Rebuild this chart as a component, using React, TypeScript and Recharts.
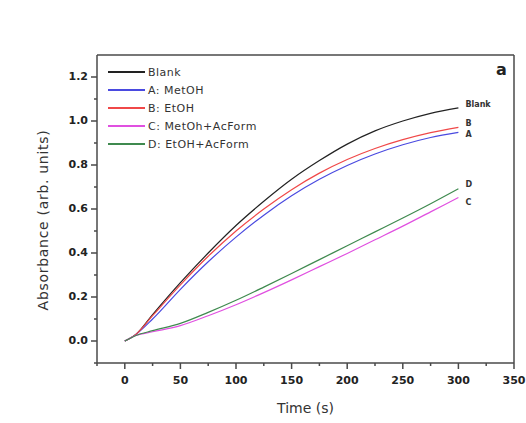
import { LineChart, Line, XAxis, YAxis, LabelList } from 'recharts';

const times = [0, 10, 25, 50, 75, 100, 125, 150, 175, 200, 225, 250, 275, 300];
const blank = [0, 0.03, 0.12, 0.265, 0.4, 0.525, 0.635, 0.735, 0.82, 0.895, 0.955, 1.0, 1.035, 1.06];
const etoh = [0, 0.03, 0.115, 0.255, 0.385, 0.5, 0.6, 0.688, 0.763, 0.825, 0.875, 0.915, 0.947, 0.971];
const metoh = [0, 0.03, 0.1, 0.235, 0.36, 0.472, 0.572, 0.66, 0.735, 0.798, 0.85, 0.892, 0.925, 0.948];
const metohAc = [0, 0.025, 0.042, 0.07, 0.115, 0.165, 0.22, 0.278, 0.338, 0.398, 0.46, 0.522, 0.587, 0.652];
const etohAc = [0, 0.025, 0.047, 0.08, 0.13, 0.185, 0.245, 0.307, 0.37, 0.433, 0.496, 0.559, 0.624, 0.692];

// majors get a label, the rest are minor ticks
const xTicks = [-25, 0, 25, 50, 75, 100, 125, 150, 175, 200, 225, 250, 275, 300, 325, 350];
const yTicks = [-0.1, 0, 0.1, 0.2, 0.3, 0.4, 0.5, 0.6, 0.7, 0.8, 0.9, 1.0, 1.1, 1.2];

const series = [
  { key: 'blank', name: 'Blank', end: 'Blank', color: '#222222', values: blank, dy: -3 },
  { key: 'metoh', name: 'A: MetOH', end: 'A', color: '#4a4ae0', values: metoh, dy: 2 },
  { key: 'etoh', name: 'B: EtOH', end: 'B', color: '#f04848', values: etoh, dy: -4 },
  { key: 'metohAc', name: 'C: MetOh+AcForm', end: 'C', color: '#e050e0', values: metohAc, dy: 5 },
  { key: 'etohAc', name: 'D: EtOH+AcForm', end: 'D', color: '#3f8a4f', values: etohAc, dy: -4 },
];

const data = times.map((t, i) => {
  const row: Record<string, number> = { t };
  series.forEach((s) => (row[s.key] = s.values[i]));
  return row;
});

const font = '"DejaVu Sans", Arial, sans-serif';
const axisColor = '#4a4a4a';

// tick props: y = axis + tickSize(4) + tickMargin(2); tick marks drawn here
function XTick(props: any) {
  const { x, y, payload } = props;
  const v = payload.value;
  const major = v >= 0 && v % 50 === 0;
  const ay = y - 6;
  return (
    <g>
      <rect x={x - 0.75} y={ay} width={1.5} height={major ? 6 : 3} fill={axisColor} />
      {major && (
        <text x={x} y={ay + 18} textAnchor="middle" dominantBaseline="middle" fontSize={11} fontWeight={700} fontFamily={font} fill="#222">
          {v}
        </text>
      )}
    </g>
  );
}

function YTick(props: any) {
  const { x, y, payload } = props;
  const v = payload.value;
  const major = v >= 0 && Math.round(v * 10) % 2 === 0;
  const ax = x + 6;
  const len = major ? 6 : 3;
  return (
    <g>
      <rect x={ax - len} y={y - 0.75} width={len} height={1.5} fill={axisColor} />
      {major && (
        <text x={ax - 9} y={y} textAnchor="end" dominantBaseline="middle" fontSize={11} fontWeight={700} fontFamily={font} fill="#222">
          {v.toFixed(1)}
        </text>
      )}
    </g>
  );
}

function LegendBox() {
  return (
    <div style={{ position: 'absolute', left: 108, top: 63, fontFamily: font, fontSize: 11, letterSpacing: 0.5, color: '#333' }}>
      {series.map((s) => (
        <div key={s.key} style={{ display: 'flex', alignItems: 'center', height: 18 }}>
          <span style={{ display: 'inline-block', width: 37, height: 1.5, background: s.color, marginRight: 3 }} />
          <span>{s.name}</span>
        </div>
      ))}
    </div>
  );
}

export default function App() {
  const last = times.length - 1;
  return (
    <div style={{ position: 'absolute', left: 0, top: 0, width: 526, height: 423, background: '#fff' }}>
      <LineChart width={526} height={423} data={data} margin={{ top: 54, right: 11, bottom: 30, left: 37 }}>
        <XAxis
          dataKey="t"
          type="number"
          domain={[-25, 350]}
          ticks={xTicks}
          interval={0}
          allowDataOverflow
          tickSize={4}
          tickMargin={2}
          tickLine={false}
          stroke={axisColor}
          strokeWidth={1.5}
          tick={<XTick />}
          height={30}
          label={{ value: 'Time (s)', position: 'insideBottom', offset: -20, fill: '#333', fontSize: 14, fontFamily: font }}
        />
        <XAxis xAxisId="top" orientation="top" dataKey="t" type="number" domain={[-25, 350]} tick={false} height={1} stroke={axisColor} strokeWidth={1.5} />
        <YAxis
          type="number"
          domain={[-0.1, 1.3]}
          ticks={yTicks}
          interval={0}
          allowDataOverflow
          tickSize={4}
          tickMargin={2}
          tickLine={false}
          width={60}
          stroke={axisColor}
          strokeWidth={1.5}
          tick={<YTick />}
          label={{
            value: 'Absorbance (arb. units)',
            content: () => (
              <text
                transform="translate(44,220) rotate(-90)"
                textAnchor="middle"
                dominantBaseline="middle"
                fontSize={14}
                letterSpacing={0.7}
                fontFamily={font}
                fill="#333"
              >
                Absorbance (arb. units)
              </text>
            ),
          }}
        />
        <YAxis yAxisId="right" orientation="right" type="number" domain={[-0.1, 1.3]} tick={false} width={1} stroke={axisColor} strokeWidth={1.5} />
        {series.map((s) => (
          <Line
            key={s.key}
            dataKey={s.key}
            name={s.name}
            type="monotone"
            stroke={s.color}
            strokeWidth={1.2}
            dot={false}
            isAnimationActive={false}
          >
            <LabelList
              dataKey={s.key}
              content={(p: any) =>
                p.index === last ? (
                  <text x={p.x + 7} y={p.y + s.dy} dominantBaseline="middle" fontSize={8} fontWeight={700} fontFamily={font} fill="#333">
                    {s.end}
                  </text>
                ) : null
              }
            />
          </Line>
        ))}
      </LineChart>
      <LegendBox />
      <div style={{ position: 'absolute', left: 496, top: 60, fontFamily: font, fontSize: 16, fontWeight: 700, color: '#222' }}>a</div>
    </div>
  );
}
